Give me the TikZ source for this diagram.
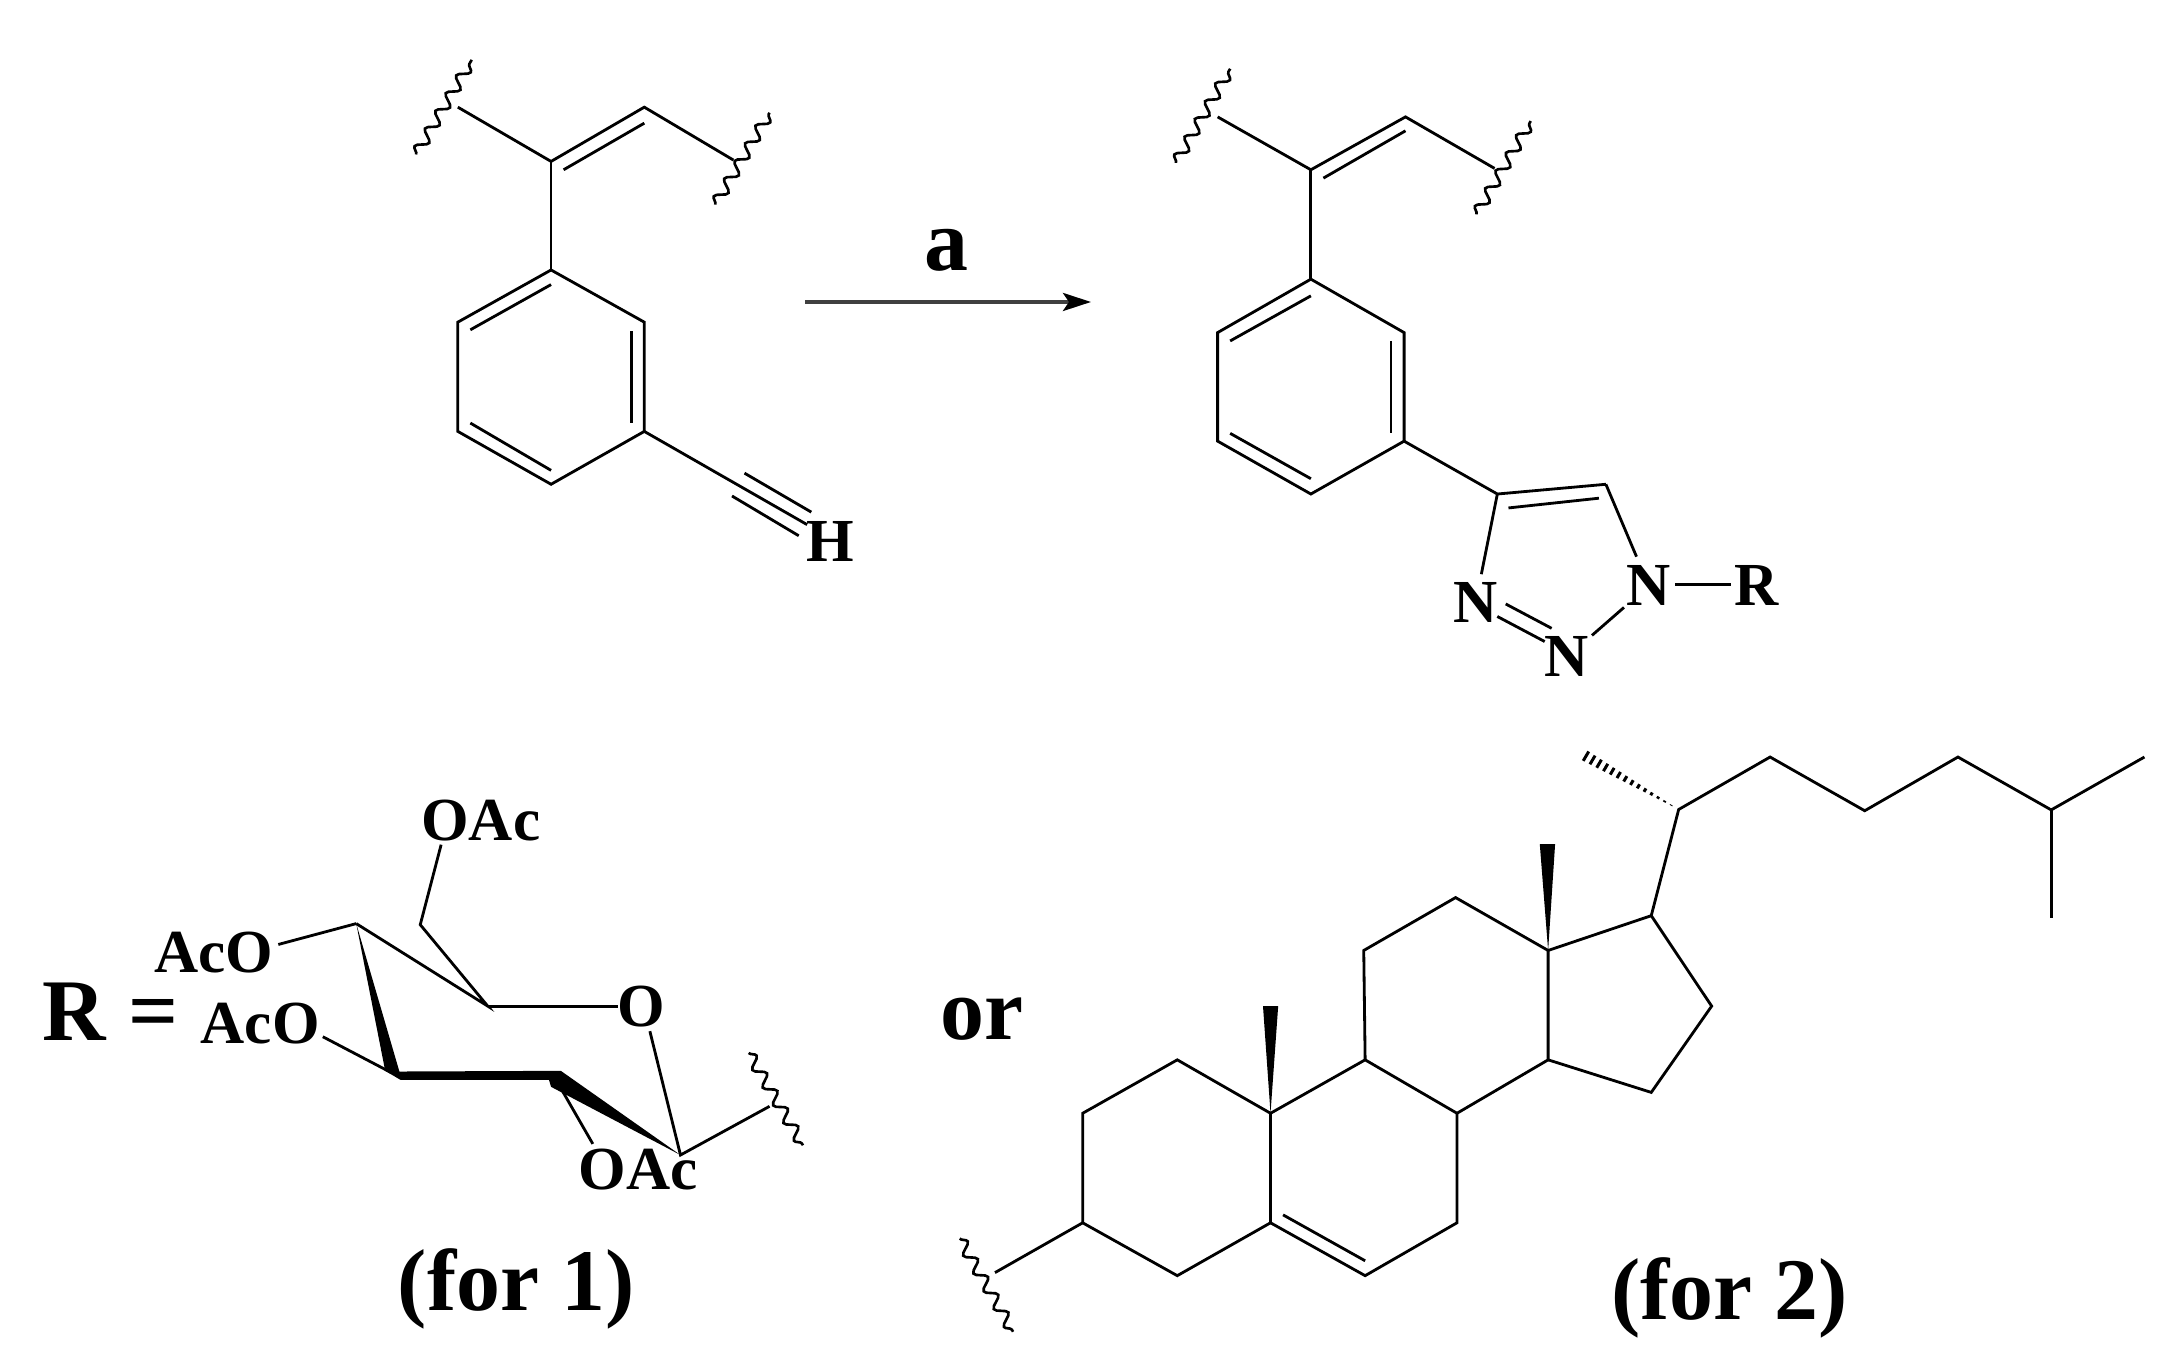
\documentclass[tikz,border=0pt]{standalone}
\usepackage{fontspec}
\setmainfont{Liberation Serif}
\usetikzlibrary{calc,arrows.meta,decorations.pathmorphing}

\tikzset{
	bond/.style={line width=.8pt,line join=miter},
	squiggle/.style={line width=.75pt,decorate,decoration={snake,amplitude=.55mm,segment length=2.05mm}},
	atom/.style={inner sep=0pt,font=\fontsize{17.4}{20}\selectfont\bfseries},
	title/.style={inner sep=0pt,font=\fontsize{25}{28}\selectfont\bfseries}
}

\begin{document}
\begin{tikzpicture}[x=0.013916cm,y=-0.013916cm]
	\useasboundingbox (0,0) rectangle (1568,981.6);
	
	% alkyne
	\coordinate (a1) at (329,77);
	\coordinate (a2) at (396,116);
	\coordinate (a3) at (463,77);
	\coordinate (a4) at (527,115);
	\coordinate (a5) at (396,194);
	\coordinate (a6) at (463,231.5);
	\coordinate (a7) at (463,310);
	\coordinate (a8) at (396,348);
	\coordinate (a9) at (329,310);
	\coordinate (a10) at (329,231.5);
	\coordinate (a11) at (580,377);
	\draw[bond] (a1) -- (a2) -- (a3) -- (a4);
	\draw[bond] (a2) -- (a5);
	\draw[bond] (a5) -- (a6) -- (a7) -- (a8) -- (a9) -- (a10) -- cycle;
	\draw[bond] (a7) -- (a11);
	\draw[bond] (405,122) -- (463,88.5);
	\draw[bond] (338,237) -- (396,204.5);
	\draw[bond] (454,238) -- (454,304);
	\draw[bond] (338,304) -- (396,338);
	\draw[bond] (535,340) -- (583,368);
	\draw[bond] (526,356.4) -- (574,385);
	\draw[squiggle] (299,111) -- (339,43);
	\draw[squiggle] (514,147) -- (553,81);
	\node[atom] (hyd) at (596.5,389) {H};
	
	\node[title] (cond) at (680,180) {a};
	\coordinate (arrowstart) at (578.5,217);
	\coordinate (arrowend) at (784,217);
	\draw[line width=1.05pt,black!75,-{Stealth[length=2.8mm,width=1.8mm,inset=.6mm,black]}] (arrowstart) -- (arrowend);
	
	% triazole
	\coordinate (b1) at (875,84);
	\coordinate (b2) at (942,122);
	\coordinate (b3) at (1010,84);
	\coordinate (b4) at (1074,121);
	\coordinate (b5) at (942,200.6);
	\coordinate (b6) at (1009,239);
	\coordinate (b7) at (1009,317);
	\coordinate (b8) at (942,355);
	\coordinate (b9) at (875,317);
	\coordinate (b10) at (875,239);
	\coordinate (c4) at (1076,355);
	\coordinate (c5) at (1154,348);
	\draw[bond] (b1) -- (b2) -- (b3) -- (b4);
	\draw[bond] (b2) -- (b5);
	\draw[bond] (b5) -- (b6) -- (b7) -- (b8) -- (b9) -- (b10) -- cycle;
	\draw[bond] (b7) -- (c4) -- (c5);
	\draw[bond] (951,128) -- (1010,94);
	\draw[bond] (884,245) -- (942,212.6);
	\draw[bond] (999.6,245) -- (999.6,311);
	\draw[bond] (884,311.4) -- (942,344);
	\draw[bond] (1084,365) -- (1149,358);
	\draw[squiggle] (845,117) -- (884,49.4);
	\draw[squiggle] (1061,154) -- (1100,87);
	\node[atom] (n1) at (1185,421) {N};
	\node[atom] (n2) at (1126,472) {N};
	\node[atom] (n3) at (1060,433) {N};
	\node[atom] (rest) at (1262,421) {R};
	\draw[bond] (c5) -- (1176,400);
	\draw[bond] (c4) -- (1064.5,412.6);
	\draw[bond] (1082,434) -- (1115,451.5);
	\draw[bond] (1076,443) -- (1110,461);
	\draw[bond] (1144,456.6) -- (1167,436.5);
	\draw[bond,line width=.6pt] (1204,420) -- (1244,420);
	
	% sugar
	\node[inner sep=0pt,font=\fontsize{25}{28}\selectfont\bfseries] (rlabel) at (79.5,727) {R =};
	\coordinate (s1) at (256,663.7);
	\coordinate (s2) at (350.5,723);
	\coordinate (s3) at (302,664.5);
	\coordinate (s4) at (489,830);
	\coordinate (s5) at (553,795);
	\fill (s1) -- (276.8,769.5) -- (287.8,776) -- (394.5,776) -- (396,781) -- (s4) -- (403,769.5) -- (287,770) -- cycle;
	\draw[bond] (s1) -- (s2) -- (s3) -- (317,607);
	\draw[bond] (s2) -- (444,723);
	\draw[bond] (s1) -- (200,678.7);
	\draw[bond] (281.6,771) -- (232,745);
	\draw[bond] (399,775) -- (426,822);
	\draw[bond] (467,741) -- (s4) -- (s5);
	\draw[squiggle] (538,756.6) -- (577,823);
	\node[atom] (oac1) at (345.5,589.4) {OAc};
	\node[atom] (aco1) at (153.4,684.4) {AcO};
	\node[atom] (aco2) at (187,735.4) {AcO};
	\node[atom] (oring) at (461,723.6) {O};
	\node[atom] (oac2) at (458.5,840.5) {OAc};
	\node[title] (for1) at (371,926.5) {(for 1)};
	
	\node[title] (orword) at (706,732) {or};
	
	% cholesteryl
	\coordinate (d1) at (778,878.7);
	\coordinate (d2) at (778,800);
	\coordinate (d3) at (846,761.6);
	\coordinate (d4) at (913,800);
	\coordinate (d5) at (913,878.7);
	\coordinate (d6) at (846,916.7);
	\coordinate (d7) at (981,761.6);
	\coordinate (d8) at (1047,800);
	\coordinate (d9) at (1047,878.7);
	\coordinate (d10) at (981,916.7);
	\coordinate (d11) at (980,683);
	\coordinate (d12) at (1046,645);
	\coordinate (d13) at (1112.5,683);
	\coordinate (d14) at (1112.5,761.6);
	\coordinate (d15) at (1186.6,785);
	\coordinate (d16) at (1230,723);
	\coordinate (d17) at (1186.6,658);
	\coordinate (d20) at (1206.3,581.7);
	\coordinate (hashend) at (1139,543);
	\draw[bond] (715,914.5) -- (d1) -- (d2) -- (d3) -- (d4) -- (d5) -- (d6) -- (d1);
	\draw[bond] (d4) -- (d7) -- (d8) -- (d9) -- (d10) -- (d5);
	\draw[bond] (922,873) -- (981,906);
	\draw[bond] (d7) -- (d11) -- (d12) -- (d13) -- (d14) -- (d8);
	\draw[bond] (d14) -- (d15) -- (d16) -- (d17) -- (d13);
	\draw[bond] (d17) -- (d20) -- (1272,544) -- (1340,582.6) -- (1407,544) -- (1474,582) -- (1541,544);
	\draw[bond] (1474,582) -- (1474,660);
	\fill (d4) -- (907.6,723) -- (918.5,723) -- cycle;
	\fill (d13) -- (1106.5,606.6) -- (1117.5,606.6) -- cycle;
	\foreach \t in {.08,.15,...,1.0}
		\draw[line width=.85pt] ($(d20)!\t!(hashend)+(\t*2,-\t*3.4)$) -- ($(d20)!\t!(hashend)-(\t*2,-\t*3.4)$);
	\draw[squiggle] (689.7,890) -- (728,957);
	\node[title] (for2) at (1243,933) {(for 2)};
	
\end{tikzpicture}
\end{document}
